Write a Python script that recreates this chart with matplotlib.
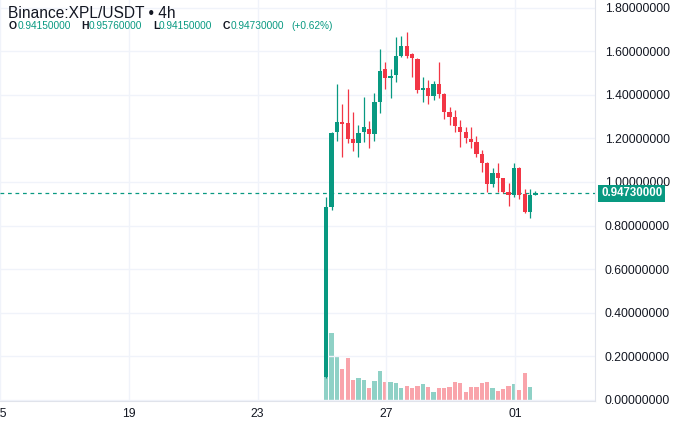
"""Binance XPL/USDT 4h candles with volume"""

import matplotlib.pyplot as plt

plt.rcParams['font.family'] = ['Liberation Sans', 'DejaVu Sans']

UP = '#089981'
DOWN = '#F23645'
GRID = '#f0f3fa'
TEXT = '#131722'

# 4h candles
opens = [0.105, 0.885, 1.230, 1.275, 1.270, 1.195, 1.180, 1.228, 1.245, 1.220,
         1.365, 1.520, 1.475, 1.490, 1.580, 1.625, 1.585, 1.565, 1.420, 1.430,
         1.395, 1.450, 1.405, 1.320, 1.300, 1.252, 1.230, 1.197, 1.185, 1.128,
         1.087, 0.990, 1.040, 1.018, 0.955, 0.940, 1.065, 0.945, 0.862, 0.9415]
highs = [0.930, 1.230, 1.450, 1.360, 1.425, 1.320, 1.260, 1.390, 1.280, 1.410,
         1.610, 1.550, 1.520, 1.665, 1.670, 1.690, 1.590, 1.570, 1.480, 1.470,
         1.465, 1.550, 1.410, 1.345, 1.330, 1.285, 1.250, 1.250, 1.210, 1.147,
         1.090, 1.065, 1.087, 1.020, 0.995, 1.087, 1.070, 0.970, 0.970, 0.9576]
lows = [0.100, 0.870, 1.190, 1.115, 1.180, 1.140, 1.115, 1.185, 1.155, 1.190,
        1.315, 1.425, 1.385, 1.460, 1.575, 1.570, 1.480, 1.410, 1.365, 1.360,
        1.375, 1.385, 1.290, 1.260, 1.230, 1.160, 1.180, 1.155, 1.115, 1.046,
        0.955, 0.975, 0.955, 0.950, 0.890, 0.930, 0.920, 0.857, 0.835, 0.9415]
closes = [0.885, 1.225, 1.275, 1.265, 1.195, 1.180, 1.225, 1.250, 1.220, 1.365,
          1.510, 1.475, 1.485, 1.580, 1.625, 1.580, 1.570, 1.420, 1.430, 1.395,
          1.450, 1.405, 1.320, 1.298, 1.257, 1.230, 1.200, 1.185, 1.128, 1.087,
          0.990, 1.040, 1.018, 0.955, 0.940, 1.065, 0.940, 0.862, 0.940, 0.9473]
volumes = [85, 68, 44, 32, 43, 21, 23, 21, 13, 20,
           30, 19, 19, 18, 13, 15, 13, 15, 17, 14,
           9, 13, 13, 14, 19, 18, 9, 14, 14, 18,
           19, 13, 10, 12, 15, 17, 11, 28, 14, 0]

price_ticks = [0.0, 0.2, 0.4, 0.6, 0.8, 1.0, 1.2, 1.4, 1.6, 1.8]
day_labels = ['15', '19', '23', '27', '01']
day_pos = [-60.8, -36.8, -12.8, 11.2, 35.2]   # in candle units

last_price = 0.9473
header = 'Binance:XPL/USDT \u2022 4h'
ohlc = [('O', '0.94150000'), ('H', '0.95760000'), ('L', '0.94150000'), ('C', '0.94730000')]
change = '(+0.62%)'


def main():
    fig = plt.figure(figsize=(6.8, 4.25), dpi=100)
    rect = [0.0, 0.0565, 595 / 680, 1 - 0.0565]

    # volume underneath, price panel on top with transparent background
    ax_v = fig.add_axes(rect)
    ax = fig.add_axes(rect)
    ax.patch.set_alpha(0)

    idx = list(range(len(opens)))
    colors = [UP if c >= o else DOWN for o, c in zip(opens, closes)]

    ax_v.bar(idx, volumes, width=0.8, color=colors, alpha=0.45, linewidth=0)
    ax_v.set_ylim(0, 400)
    ax_v.set_xlim(-60.8, 50.1)
    ax_v.axis('off')

    ax.vlines(idx, lows, highs, colors=colors, linewidth=0.9, zorder=2)
    bottoms = [min(o, c) for o, c in zip(opens, closes)]
    heights = [max(abs(c - o), 0.004) for o, c in zip(opens, closes)]
    ax.bar(idx, heights, bottom=bottoms, width=0.8, color=colors, linewidth=0, zorder=3)

    ax.axhline(last_price, color=UP, linestyle=(0, (3, 3)), linewidth=0.9, zorder=1)

    ax.set_xlim(-60.8, 50.1)
    ax.set_ylim(-0.005, 1.835)

    ax.yaxis.tick_right()
    ax.set_yticks(price_ticks)
    ax.set_yticklabels([f'{p:.8f}' for p in price_ticks])
    ax.set_xticks(day_pos)
    ax.set_xticklabels(day_labels)
    ax.tick_params(axis='both', length=0, labelsize=8.7, colors=TEXT)
    ax.tick_params(axis='y', pad=7)
    ax.tick_params(axis='x', pad=5)

    ax.grid(True, color=GRID, linewidth=1)
    ax.set_axisbelow(True)
    for side in ['top', 'left']:
        ax.spines[side].set_visible(False)
    for side in ['right', 'bottom']:
        ax.spines[side].set_color('#e0e3eb')

    # last price tag on the axis
    ax.text(1.0 + 6 / 595, last_price, f'{last_price:.8f}', transform=ax.get_yaxis_transform(),
            ha='left', va='center', fontsize=8.3, color='white', fontweight='bold',
            bbox=dict(boxstyle='square,pad=0.22', facecolor=UP, edgecolor='none'),
            zorder=10, clip_on=False)

    fig.text(8 / 680, 1 - 13 / 425, header, fontsize=11.2, color=TEXT, va='center')
    xs = [(9, 18), (81, 89), (153, 159), (223, 231)]
    for (k, v), (xk, xv) in zip(ohlc, xs):
        fig.text(xk / 680, 1 - 26 / 425, k, fontsize=7.5, color=TEXT, fontweight='bold', va='center')
        fig.text(xv / 680, 1 - 26 / 425, v, fontsize=7.3, color=UP, va='center')
    fig.text(291 / 680, 1 - 26 / 425, change, fontsize=7.3, color=UP, va='center')

    fig.savefig('out.png', dpi=100)


if __name__ == '__main__':
    main()
